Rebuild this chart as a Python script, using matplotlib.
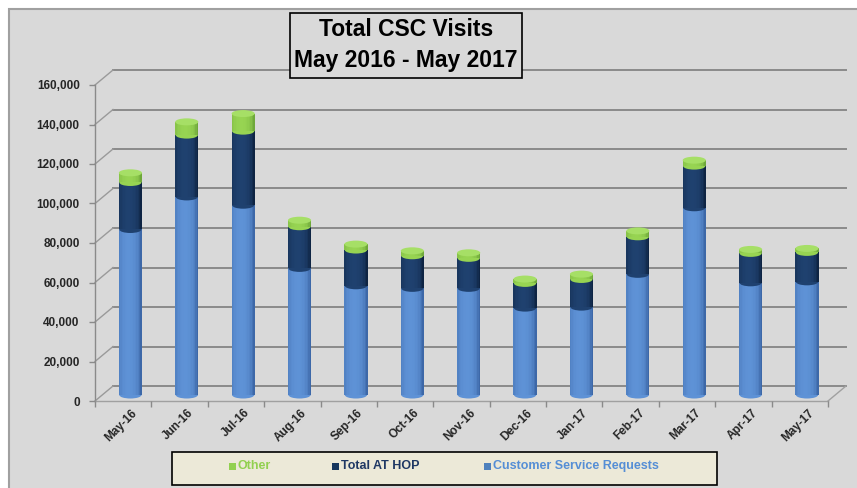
import numpy as np
import matplotlib
matplotlib.use("Agg")
import matplotlib.pyplot as plt
from matplotlib.patches import Rectangle, Ellipse
from matplotlib.transforms import ScaledTranslation
from matplotlib.colors import to_rgb

# data
months = ["May-16", "Jun-16", "Jul-16", "Aug-16", "Sep-16", "Oct-16", "Nov-16",
          "Dec-16", "Jan-17", "Feb-17", "Mar-17", "Apr-17", "May-17"]
csr = [83800, 100300, 96100, 64100, 55300, 54000, 54000, 44000, 44500, 61100, 94800, 56800, 57300]
at_hop = [23800, 31300, 37500, 21100, 18100, 16500, 15200, 12500, 14000, 19000, 21100, 14900, 14900]
other = [4900, 6700, 8900, 3300, 3000, 2500, 2800, 2200, 2700, 3000, 3000, 2000, 2000]
y_ticks = np.arange(0, 160001, 20000)

W, H = 857, 488
plt.rcParams["font.family"] = ["Liberation Sans", "DejaVu Sans"]
fig = plt.figure(figsize=(W / 100, H / 100), dpi=100, facecolor="white")

# chart area (grey, border only top/left visible)
fig.patches.append(Rectangle((9 / W, -0.05), 1.0, 1 - 9 / H + 0.05, transform=fig.transFigure,
                             facecolor="#d9d9d9", edgecolor="#a0a0a0", lw=1.5, zorder=-1))

ax = fig.add_axes([95 / W, 1 - 401 / H, 733 / W, 316 / H])
n = len(months)
ax.set_xlim(-0.5, n - 0.5)
ax.set_ylim(0, 160000)
ax.patch.set_alpha(0)
for s in ax.spines.values():
    s.set_visible(False)


def shift(dx, dy):
    # pixel offset used for the fake depth
    return ax.transData + ScaledTranslation(dx / 100, dy / 100, fig.dpi_scale_trans)


back = shift(18, 15)
mid = shift(7.2, 6)
DX = 18 / (733 / n)
DY = 15 * 160000 / 316
grid_col = "#8a8a8a"

# back wall gridlines + side wall diagonals
for v in y_ticks:
    ax.plot([-0.5, n - 0.5], [v, v], transform=back, color=grid_col, lw=1.4, clip_on=False, zorder=1)
    ax.plot([-0.5, -0.5 + DX], [v, v + DY], color="#9a9a9a", lw=1, clip_on=False, zorder=1)
ax.plot([-0.5, -0.5], [0, 160000], color=grid_col, lw=1, clip_on=False, zorder=1)
ax.plot([-0.5, n - 0.5], [0, 0], color="#a0a0a0", lw=1, clip_on=False, zorder=1)
ax.plot([n - 0.5, n - 0.5 + DX], [0, DY], color="#a0a0a0", lw=1, clip_on=False, zorder=1)

ax.set_yticks(y_ticks)
ax.set_yticklabels([f"{v:,}" for v in y_ticks])
ax.tick_params(axis="y", length=4, width=1, color=grid_col, pad=7, labelsize=8.5, labelcolor="#262626")
for lbl in ax.get_yticklabels():
    lbl.set_fontweight("bold")
ax.set_xticks([])
ax.set_xticks(np.arange(-0.5, n, 1), minor=True)
ax.tick_params(axis="x", which="minor", length=4, width=1, color=grid_col, labelbottom=False)

lab_tr = shift(8, -6)
for i, m in enumerate(months):
    ax.text(i, 0, m, rotation=45, ha="right", va="top", rotation_mode="anchor",
            transform=lab_tr, fontsize=8.5, fontweight="bold", color="#262626")

# cylinders
x = np.arange(n)
w = 0.41
strips = 16
eh = 7 * 160000 / 316
series = [
    (csr, "#3d68a8", "#5e92d6"),
    (at_hop, "#0e2443", "#1f416f"),
    (other, "#6fa83a", "#97d452"),
]
bottom = np.zeros(n)
z = 2
for vals, edge, center in series:
    vals = np.array(vals, dtype=float)
    for i in range(n):
        ax.add_patch(Ellipse((x[i], bottom[i]), w * 0.96, eh, transform=mid, facecolor=center,
                             edgecolor="none", zorder=z))
    ce, cc = np.array(to_rgb(edge)), np.array(to_rgb(center))
    for k in range(strips):
        t = -1 + (2 * k + 1) / strips
        g = np.clip(1 - (t + 0.15) ** 2, 0, 1) ** 0.5
        col = ce + (cc - ce) * g
        ax.bar(x + t * w / 2, vals, width=w / strips * 1.05, bottom=bottom, color=col,
               linewidth=0, transform=mid, zorder=z + 1)
    bottom = bottom + vals
    z += 2
for i in range(n):
    ax.add_patch(Ellipse((x[i], bottom[i]), w, eh, transform=mid, facecolor="#a6df66",
                         edgecolor="none", zorder=z))

# title box
fig.patches.append(Rectangle((290 / W, 1 - 78 / H), 232 / W, 65 / H, transform=fig.transFigure,
                             facecolor="#d9d9d9", edgecolor="black", lw=1.2, zorder=2))
fig.text(406 / W, 1 - 30 / H, "Total CSC Visits", ha="center", va="center",
         fontsize=16.5, fontweight="bold", zorder=3)
fig.text(406 / W, 1 - 61 / H, "May 2016 - May 2017", ha="center", va="center",
         fontsize=16.5, fontweight="bold", zorder=3)

# legend box
fig.patches.append(Rectangle((172 / W, 1 - 485 / H), 545 / W, 33 / H, transform=fig.transFigure,
                             facecolor="#ece9d8", edgecolor="black", lw=1.2, zorder=2))
legend_items = [("Other", "#92d050", "#92d050", 229),
                ("Total AT HOP", "#17375e", "#1f3864", 332),
                ("Customer Service Requests", "#4f81bd", "#558ed5", 484)]
for name, sq, tc, lx in legend_items:
    fig.patches.append(Rectangle((lx / W, 1 - 470 / H), 7 / W, 7 / H, transform=fig.transFigure,
                                 facecolor=sq, edgecolor="none", zorder=3))
    fig.text((lx + 9) / W, 1 - 466 / H, name, ha="left", va="center", fontsize=9,
             fontweight="bold", color=tc, zorder=3)

fig.savefig("out.png", dpi=100, facecolor="white")
